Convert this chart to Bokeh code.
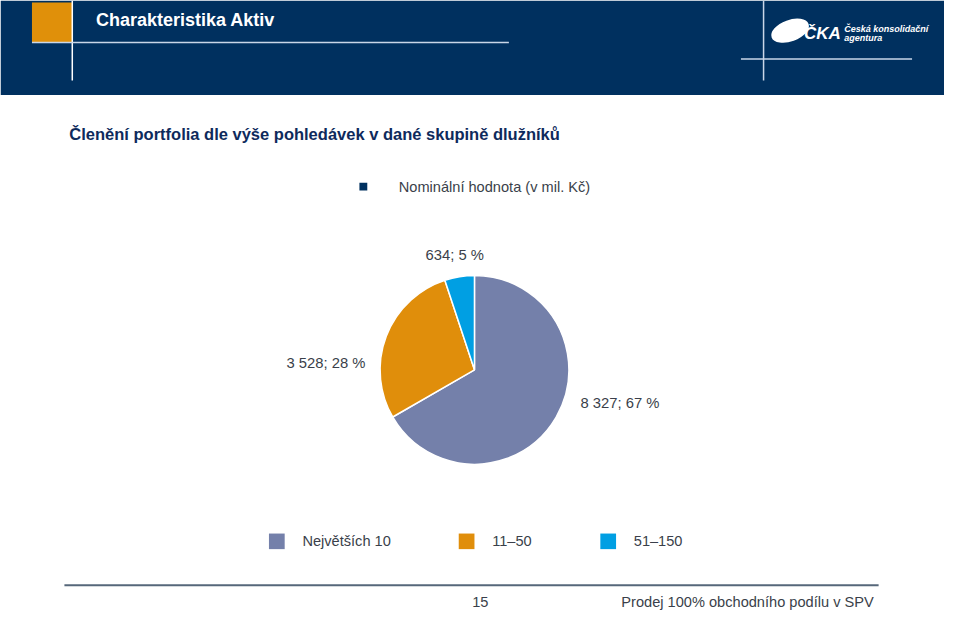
import math
from bokeh.plotting import figure
from bokeh.models import Range1d, ColumnDataSource
from bokeh.core.properties import value
from bokeh.embed import file_html
from bokeh.resources import INLINE

# ---- data ----
categories = ["Největších 10", "11–50", "51–150"]
values = [8327, 3528, 634]
colors = ["#7480aa", "#e08e0b", "#009fe3"]
series_name = "Nominální hodnota (v mil. Kč)"
title = "Členění portfolia dle výše pohledávek v dané skupině dlužníků"
header = "Charakteristika Aktiv"
footer_page = "15"
footer_text = "Prodej 100% obchodního podílu v SPV"

FONT = "Liberation Sans"
W, H = 960, 627

def Y(ry):
    return H - ry

p = figure(width=944, height=611, output_backend="svg", toolbar_location=None,
           x_range=Range1d(0, W), y_range=Range1d(0, H),
           min_border=0, outline_line_color=None)
p.axis.visible = False
p.grid.visible = False
p.background_fill_color = "white"
p.border_fill_color = "white"

# ---- header band ----
navy = "#00305f"
p.quad(left=[0], right=[W], bottom=[Y(97)], top=[H], fill_color=navy, line_color=None)
p.quad(left=[32], right=[73], bottom=[Y(43)], top=[Y(2)], fill_color="#e0900a", line_color=None)
p.segment(x0=[73], y0=[Y(0)], x1=[73], y1=[Y(82)], line_color="white", line_width=1.5)
p.segment(x0=[32], y0=[Y(43)], x1=[517], y1=[Y(43)], line_color="#c9d6e8", line_width=1.5)
p.segment(x0=[776], y0=[Y(0)], x1=[776], y1=[Y(82)], line_color="#c9d6e8", line_width=1.5)
p.segment(x0=[753], y0=[Y(60)], x1=[927], y1=[Y(60)], line_color="#c9d6e8", line_width=1.5)
p.text(x=[97], y=[Y(20)], text=[header], text_color="white", text_font=value(FONT),
       text_font_size="18px", text_font_style="bold", text_align="left", text_baseline="middle")
# logo
p.ellipse(x=[803], y=[Y(31)], width=40, height=22, angle=0.35, fill_color="white", line_color=None)
p.text(x=[817], y=[Y(34)], text=["ČKA"], text_color="white", text_font=value(FONT),
       text_font_size="17px", text_font_style="bold italic", text_align="left", text_baseline="middle")
p.text(x=[858, 858], y=[Y(29), Y(38)], text=["Česká konsolidační", "agentura"], text_color="white",
       text_font=value(FONT), text_font_size="9px", text_font_style="bold italic",
       text_align="left", text_baseline="middle")

# ---- title ----
p.text(x=[70], y=[Y(137)], text=[title], text_color="#0e2a5c", text_font=value(FONT),
       text_font_size="16.5px", text_font_style="bold", text_align="left", text_baseline="middle")

# ---- series legend ----
p.rect(x=[369], y=[Y(191)], width=8, height=8, fill_color=navy, line_color=None)
p.text(x=[405], y=[Y(191)], text=[series_name], text_color="#3a3f4a", text_font=value(FONT),
       text_font_size="14.6px", text_align="left", text_baseline="middle")

# ---- pie ----
total = sum(values)
fracs = [v / total for v in values]
starts, ends = [], []
cum = 0.0
for f in fracs:
    starts.append(math.pi / 2 - 2 * math.pi * cum)
    cum += f
    ends.append(math.pi / 2 - 2 * math.pi * cum)
cx, cy, r = 482, Y(379), 96
src = ColumnDataSource(dict(start=starts, end=ends, color=colors, cat=categories, val=values))
p.wedge(x=cx, y=cy, radius=r, start_angle="start", end_angle="end", direction="clock",
        fill_color="color", line_color="white", line_width=1.5, source=src)

labels = [f"{v:,}".replace(",", " ") + f"; {round(f * 100)} %" for v, f in zip(values, fracs)]
lab_x = [630, 331, 462]
lab_y = [Y(413), Y(372), Y(261)]
p.text(x=lab_x, y=lab_y, text=labels, text_color="#3a3f4a", text_font=value(FONT),
       text_font_size="14.8px", text_align="center", text_baseline="middle")

# ---- bottom legend ----
leg_x = [281, 474, 618]
p.rect(x=leg_x, y=[Y(555)] * 3, width=16, height=16, fill_color=colors, line_color=None)
p.text(x=[x + 26 for x in leg_x], y=[Y(555)] * 3, text=categories, text_color="#3a3f4a",
       text_font=value(FONT), text_font_size="14.6px", text_align="left", text_baseline="middle")

# ---- footer ----
p.segment(x0=[65], y0=[Y(600)], x1=[893], y1=[Y(600)], line_color="#56677a", line_width=2)
p.text(x=[488], y=[Y(617)], text=[footer_page], text_color="#3a3f4a", text_font=value(FONT),
       text_font_size="14.6px", text_align="center", text_baseline="middle")
p.text(x=[888], y=[Y(617)], text=[footer_text], text_color="#3a3f4a", text_font=value(FONT),
       text_font_size="14.6px", text_align="right", text_baseline="middle")

open("out.html", "w").write(file_html(p, INLINE))
